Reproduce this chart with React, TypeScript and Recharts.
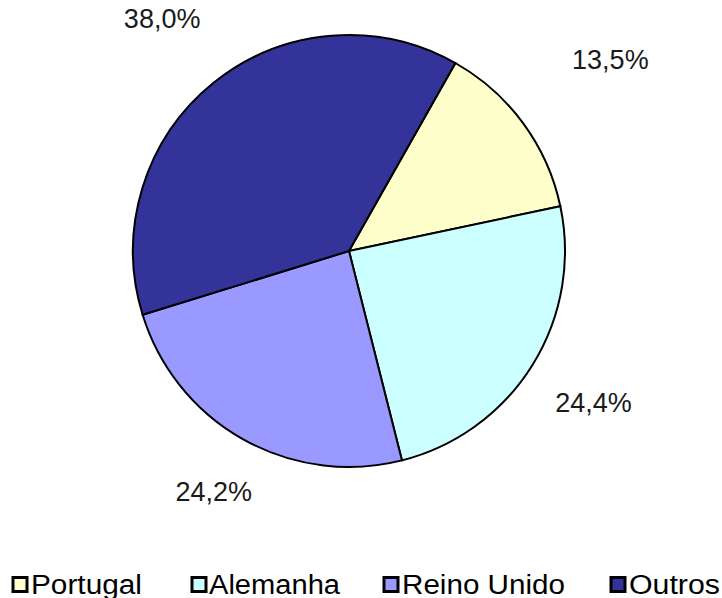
import React from "react";
import { PieChart, Pie, Cell, Legend } from "recharts";

const countries = ["Portugal", "Alemanha", "Reino Unido", "Outros"];
const shares = [13.5, 24.4, 24.2, 38.0];
const colors = ["#FFFFCC", "#CCFFFF", "#9999FF", "#333399"];

const data = countries.map((name, i) => ({ name, value: shares[i] }));

const FONT = "'Liberation Sans', Arial, sans-serif";
const RAD = Math.PI / 180;

// label distance beyond the rim, per slice
const LABEL_GAP = [108, 72, 60, 82];

// legend slots: square x, text start, text end
const LEGEND_SLOTS = [
  [12, 31, 142],
  [191, 209, 340],
  [383, 402, 565],
  [610, 629, 720],
];

function renderLabel(props: any) {
  const { cx, cy, midAngle, outerRadius, value, index } = props;
  const r = outerRadius + LABEL_GAP[index];
  const x = cx + r * Math.cos(-midAngle * RAD);
  const y = cy + r * Math.sin(-midAngle * RAD);
  return (
    <text
      x={x}
      y={y}
      textAnchor="middle"
      dominantBaseline="central"
      fill="#1a1a1a"
      fontSize={27}
      fontFamily={FONT}
    >
      {value.toFixed(1).replace(".", ",") + "%"}
    </text>
  );
}

function LegendContent() {
  return (
    <svg width={722} height={40} style={{ display: "block" }}>
      {countries.map((name, i) => {
        const [sx, tx, te] = LEGEND_SLOTS[i];
        return (
          <g key={name}>
            <rect x={sx + 1} y={19.5} width={14} height={14} fill={colors[i]} stroke="#000" strokeWidth={3} />
            <text
              x={tx}
              y={35.5}
              fontSize={27}
              fontFamily={FONT}
              fill="#000"
              textLength={te - tx}
              lengthAdjust="spacingAndGlyphs"
            >
              {name}
            </text>
          </g>
        );
      })}
    </svg>
  );
}

export default function App() {
  return (
    <div style={{ position: "absolute", left: 0, top: 0, background: "#fff" }}>
      <PieChart width={722} height={598} margin={{ top: 0, right: 0, bottom: 0, left: 0 }}>
        <Pie
          data={data}
          dataKey="value"
          nameKey="name"
          cx={349}
          cy={251}
          outerRadius={216}
          startAngle={60.5}
          endAngle={-299.5}
          stroke="#000"
          strokeWidth={2}
          label={renderLabel}
          labelLine={false}
          isAnimationActive={false}
        >
          {data.map((d, i) => (
            <Cell key={d.name} fill={colors[i]} />
          ))}
        </Pie>
        <Legend
          content={<LegendContent />}
          wrapperStyle={{ left: 0, top: 558, width: 722, height: 40 }}
        />
      </PieChart>
    </div>
  );
}
